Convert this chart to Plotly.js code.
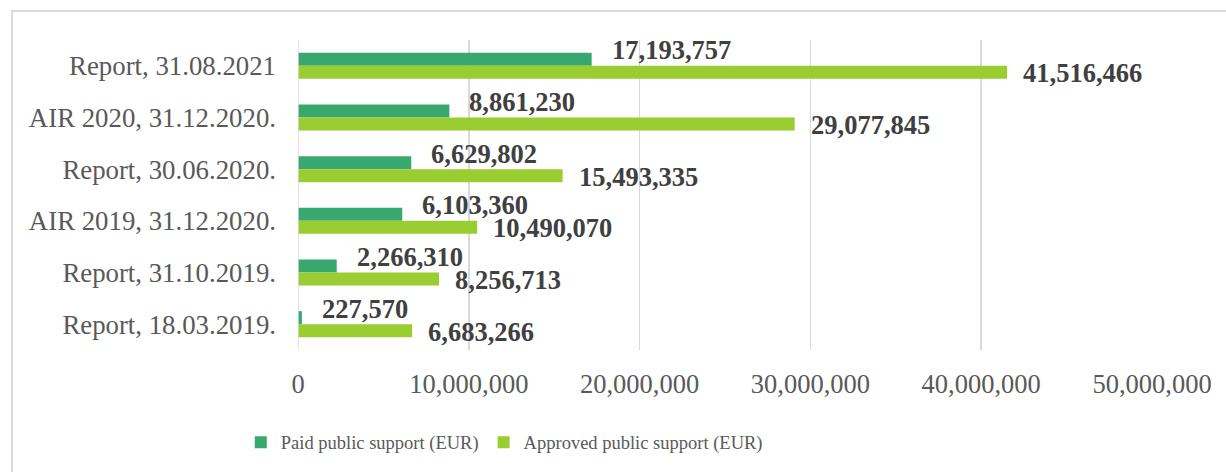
<!DOCTYPE html>
<html>
<head>
<meta charset="utf-8">
<script src="https://cdn.plot.ly/plotly-3.0.1.min.js"></script>
<style>
html,body{margin:0;padding:0;background:#fff;}
#frame{position:absolute;left:11px;top:10px;width:1300px;height:600px;border:2px solid #d9d9d9;box-sizing:border-box;}
#chart{position:absolute;left:0;top:0;width:1226px;height:472px;}
</style>
</head>
<body>
<div id="frame"></div>
<div id="chart"></div>
<script>
const categories = [
  "Report, 31.08.2021",
  "AIR 2020, 31.12.2020.",
  "Report, 30.06.2020.",
  "AIR 2019, 31.12.2020.",
  "Report, 31.10.2019.",
  "Report, 18.03.2019."
];
const paidSupport = [17193757, 8861230, 6629802, 6103360, 2266310, 227570];
const approvedSupport = [41516466, 29077845, 15493335, 10490070, 8256713, 6683266];
const seriesNames = ["Paid public support (EUR)", "Approved public support (EUR)"];
const xTicks = [0, 10000000, 20000000, 30000000, 40000000, 50000000];

const fmt = v => v.toLocaleString('en-US');
const serif = "Liberation Serif, Times New Roman, serif";

const traces = [
  {type:'bar', orientation:'h', name:seriesNames[0], y:categories, x:paidSupport,
   marker:{color:'#38a86f'}, hoverinfo:'skip'},
  {type:'bar', orientation:'h', name:seriesNames[1], y:categories, x:approvedSupport,
   marker:{color:'#9acd32'}, hoverinfo:'skip'}
];

const annotations = [];
categories.forEach((c, i) => {
  annotations.push({x:paidSupport[i], y:i-0.125, xref:'x', yref:'y', text:fmt(paidSupport[i]),
    showarrow:false, xanchor:'left', yanchor:'middle', xshift:18, yshift:9,
    font:{family:serif, size:26.5, color:'#404040', weight:'bold'}});
  annotations.push({x:approvedSupport[i], y:i+0.125, xref:'x', yref:'y', text:fmt(approvedSupport[i]),
    showarrow:false, xanchor:'left', yanchor:'middle', xshift:14, yshift:-1,
    font:{family:serif, size:26.5, color:'#404040', weight:'bold'}});
});

const layout = {
  width:1226, height:472,
  margin:{l:298, r:74, t:40, b:122},
  paper_bgcolor:'rgba(0,0,0,0)', plot_bgcolor:'rgba(0,0,0,0)',
  barmode:'group', bargap:0.497, bargroupgap:0,
  font:{family:serif, color:'#595959'},
  xaxis:{range:[0,50000000], tickvals:xTicks, ticktext:xTicks.map(fmt),
    showgrid:true, gridcolor:'#d9d9d9', gridwidth:1.5, zeroline:false, showline:false,
    ticks:'', ticklabelstandoff:15, tickfont:{family:serif, size:26.5, color:'#595959'}},
  yaxis:{type:'category', autorange:'reversed', showgrid:false, zeroline:false, showline:false,
    ticks:'', ticklabelstandoff:21, tickfont:{family:serif, size:26.8, color:'#595959'}},
  shapes:[{type:'line', xref:'x', yref:'paper', x0:0, x1:0, y0:0, y1:1,
    line:{color:'#d9d9d9', width:1.5}}],
  showlegend:true,
  legend:{orientation:'h', x:-0.067, xanchor:'left', yref:'container', y:0.062, yanchor:'middle',
    itemwidth:30,
    font:{family:serif, size:18.5, color:'#595959'}, bgcolor:'rgba(0,0,0,0)'},
  annotations:annotations
};

Plotly.newPlot('chart', traces, layout, {displayModeBar:false, staticPlot:true});
</script>
</body>
</html>
